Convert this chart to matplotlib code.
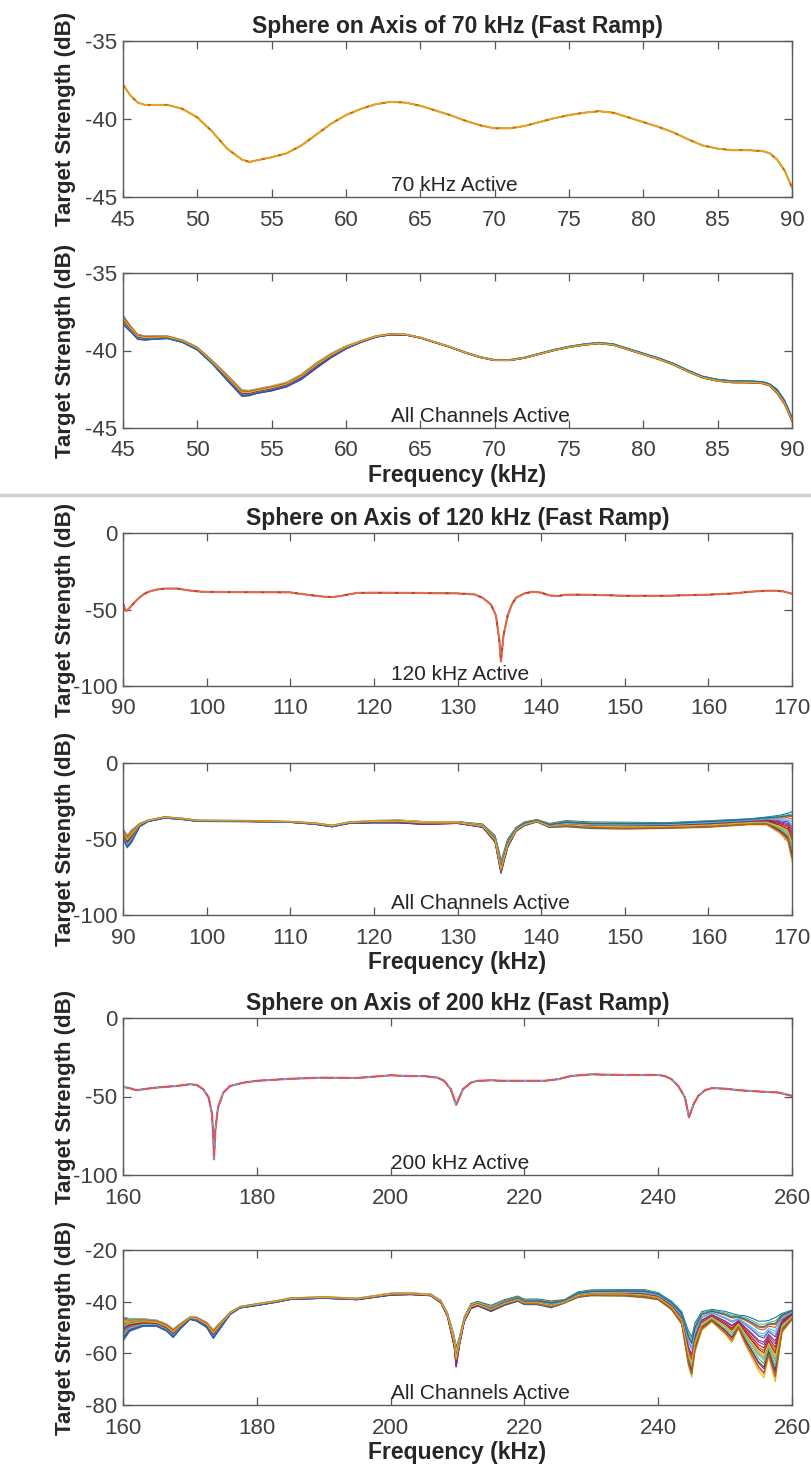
import numpy as np
import matplotlib
matplotlib.use('Agg')
import matplotlib.pyplot as plt
from matplotlib.lines import Line2D

plt.rcParams['font.family'] = ['Liberation Sans Narrow', 'Liberation Sans', 'DejaVu Sans']
plt.rcParams['axes.unicode_minus'] = False

# MATLAB default line colours
mcol = ['#0072BD', '#D95319', '#EDB120', '#7E2F8E', '#77AC30', '#4DBEEE', '#A2142F']

# ---- 70 kHz, single channel active
f1 = [45, 45.5, 46, 46.5, 47, 48, 49, 50, 51, 52, 53, 53.5, 54, 55, 56, 57, 58, 59, 60, 61,
      62, 63, 64, 65, 66, 67, 68, 69, 70, 71, 72, 73, 74, 75, 76, 77, 78, 79, 80, 81,
      82, 83, 84, 85, 86, 87, 88, 88.5, 89, 89.5, 90]
ts1 = [-37.8, -38.5, -38.95, -39.1, -39.1, -39.1, -39.35, -39.9, -40.8, -41.9, -42.6, -42.75,
       -42.65, -42.45, -42.2, -41.7, -41.0, -40.3, -39.75, -39.35, -39.05, -38.9, -38.95,
       -39.15, -39.45, -39.75, -40.1, -40.4, -40.6, -40.6, -40.45, -40.2, -39.95, -39.75,
       -39.6, -39.5, -39.6, -39.9, -40.2, -40.5, -40.85, -41.3, -41.7, -41.9, -42.0, -42.0,
       -42.05, -42.2, -42.6, -43.3, -44.4]

# ---- 70 kHz, all channels (upper / lower edge of the channel bundle)
f2 = f1
hi2 = [-37.7, -38.4, -38.95, -39.05, -39.05, -39.05, -39.3, -39.75, -40.6, -41.5, -42.45, -42.5,
       -42.4, -42.2, -41.95, -41.4, -40.65, -40.05, -39.6, -39.3, -39.0, -38.85, -38.9, -39.1,
       -39.4, -39.7, -40.05, -40.35, -40.55, -40.55, -40.4, -40.15, -39.9, -39.7, -39.55,
       -39.45, -39.55, -39.85, -40.15, -40.45, -40.8, -41.25, -41.65, -41.85, -41.95, -41.95,
       -42.0, -42.15, -42.5, -43.2, -44.3]
lo2 = [-38.35, -38.8, -39.3, -39.35, -39.3, -39.25, -39.5, -40.0, -40.9, -42.0, -43.05, -43.0,
       -42.85, -42.7, -42.45, -42.0, -41.3, -40.6, -40.0, -39.55, -39.2, -39.05, -39.05,
       -39.25, -39.55, -39.85, -40.2, -40.5, -40.7, -40.7, -40.55, -40.3, -40.05, -39.85,
       -39.7, -39.6, -39.7, -40.0, -40.3, -40.6, -40.95, -41.4, -41.8, -42.0, -42.1, -42.1,
       -42.15, -42.3, -42.8, -43.5, -44.6]

# ---- 120 kHz, single channel active
f3 = [90, 90.2, 90.4, 90.7, 91, 91.5, 92, 92.5, 93, 94, 95, 96.5, 97, 98, 99, 100, 105, 110, 111,
      112, 113, 114, 115, 116, 117, 118, 120, 125, 130, 132, 133, 134, 134.6, 135, 135.2, 135.5,
      136, 136.5, 137, 138, 139, 140, 141, 142, 143, 145, 150, 155, 160, 163, 165, 167, 168,
      169, 170]
ts3 = [-46, -49, -51, -49.5, -47.7, -44.6, -42, -40, -38.5, -37, -36.3, -36.3, -36.8, -37.6,
       -38.2, -38.5, -38.7, -38.8, -39.6, -40.3, -41, -41.6, -41.9, -41.2, -40.1, -39.2, -39,
       -39.2, -39.5, -40.1, -42.3, -46.7, -54, -70, -84, -67, -54, -46.7, -42.3, -39.5, -38.4,
       -39, -40.8, -41.2, -40.3, -40.3, -41, -41, -40.3, -39.5, -38.4, -37.7, -37.7, -38.2,
       -39.7]

# ---- 120 kHz, all channels
f4 = [90, 90.5, 91, 92, 93, 95, 97, 99, 105, 110, 113, 115, 117, 120, 123, 126, 130, 133, 134.5,
      135, 135.2, 136, 137, 138, 139.5, 141, 143, 146, 150, 155, 160, 165, 167, 168.5, 169.5, 170]
hi4 = [-43, -47.4, -44, -39.7, -37.5, -35.3, -36.2, -37.5, -37.6, -38.2, -39, -40.4, -38.2,
       -36.8, -36, -37, -37.6, -38.7, -45, -54, -60, -47, -41, -37.6, -36.5, -38.7, -36.5,
       -37.6, -38, -38.7, -37.6, -36.5, -35.4, -34.3, -33, -32]
lo4 = [-49.6, -56, -52.8, -42, -38.6, -36.4, -37.2, -38.6, -38.8, -39.3, -40.8, -42.5, -40.4,
       -40.4, -40.9, -42, -40.9, -44.2, -56, -73.7, -79, -60, -47, -43, -39.8, -44, -44, -45,
       -45, -44, -43, -40.9, -41, -46.3, -52, -65]

# ---- 200 kHz, single channel active
f5 = [160, 161, 162, 163, 165, 168, 170, 171, 172, 172.8, 173.3, 173.5, 173.6, 173.8, 174.2, 175,
      176, 178, 180, 185, 190, 195, 200, 203, 205, 207, 208, 209, 209.8, 210.8, 212, 213, 215,
      217, 220, 223, 225, 227, 230, 235, 240, 241, 242, 243, 244, 244.6, 245.3, 246, 247, 248,
      250, 252, 255, 258, 260]
ts5 = [-43.9, -44.7, -46, -45.4, -44.3, -43.3, -42.2, -42.6, -45.4, -50.6, -61, -75.8, -90,
       -71.6, -57, -47.5, -43.3, -41.2, -40, -38.7, -38, -38.2, -36.5, -37, -37, -38, -40,
       -45.4, -55.3, -45.4, -41.2, -40, -39.7, -40, -40, -40, -39, -36.9, -35.9, -36.3, -36.3,
       -37, -39, -43.3, -50.6, -63.2, -54.8, -49.6, -46, -44.7, -45, -46, -46.8, -47.5, -49.6]

# ---- 200 kHz, all channels
f6 = [160, 161, 163, 165, 166.5, 167.5, 168.5, 170, 171, 172.5, 173.5, 174.5, 176, 177.5, 180,
      183, 185, 190, 195, 200, 203, 206, 207.5, 208.5, 209.5, 209.8, 210.3, 211, 212, 213, 215,
      217, 219, 220, 222, 224, 226, 228, 230, 235, 238, 240, 242, 243.5, 244.5, 245, 245.5,
      246.5, 248, 250, 251, 252, 253, 254, 255, 255.8, 256.5, 257.5, 258.5, 260]
hi6 = [-45.8, -46.5, -46.5, -47, -48.4, -50.3, -48.4, -45.8, -45.8, -47.7, -50.3, -47.7, -43.9,
       -41.7, -40.6, -39.4, -38.3, -37.8, -38.3, -36.1, -36.1, -36.5, -38.7, -43.2, -49.7, -52,
       -51, -44.5, -39.4, -38.7, -40, -38, -36.8, -38, -38, -38.7, -38.7, -35.5, -34.8, -34.8,
       -34.8, -36.1, -39.4, -43.2, -49.7, -52, -47.1, -43.2, -42.6, -43.2, -43.9, -45, -45,
       -45.8, -47, -47, -47, -45.8, -44.5, -43.2]
lo6 = [-55.5, -51.6, -49.7, -49.7, -51.6, -54.2, -51, -47, -47.7, -50.3, -54.8, -51, -45.2,
       -42.6, -41.7, -40.4, -39.4, -39, -39.6, -38.1, -37.8, -38.3, -41.3, -47.1, -61.3, -72.3,
       -60, -49.7, -44.5, -43.2, -45.8, -43.2, -41.3, -42.6, -42.6, -43.9, -41.3, -39.4, -38.7,
       -38.7, -39.4, -40, -43.9, -49.7, -67, -71.6, -61.3, -52.2, -48.4, -53.5, -56.8, -50.9,
       -57.4, -62.6, -67.7, -70.3, -62, -71.6, -52.2, -47.1]

# where each channel sits inside the bundle at the low / high end of the sweep
chan_a = [0.55, 0.1, 0.85, 0.3, 0.7, 0.0, 0.95, 0.45, 0.2, 0.8, 0.6, 0.35, 1.0, 0.15,
          0.65, 0.4, 0.9, 0.05, 0.75, 0.25, 0.5, 0.12, 0.88, 0.62]
chan_b = [0.2, 0.9, 0.05, 0.6, 0.35, 0.8, 0.15, 1.0, 0.5, 0.0, 0.7, 0.95, 0.3, 0.55,
          0.1, 0.85, 0.4, 0.65, 0.25, 0.75, 0.45, 0.92, 0.08, 0.38]

titles = ['Sphere on Axis of 70 kHz (Fast Ramp)', None,
          'Sphere on Axis of 120 kHz (Fast Ramp)', None,
          'Sphere on Axis of 200 kHz (Fast Ramp)', None]
notes = ['70 kHz Active', 'All Channels Active', '120 kHz Active',
         'All Channels Active', '200 kHz Active', 'All Channels Active']

W, H = 811, 1470
fig = plt.figure(figsize=(W / 100, H / 100), dpi=100)

# axes boxes in pixels (top, bottom)
boxes = [(41, 197), (273, 428), (533, 686), (763, 915), (1018, 1175), (1250, 1405)]
left_px, right_px = 123, 792
axes = []
for top, bot in boxes:
    axes.append(fig.add_axes([left_px / W, 1 - bot / H, (right_px - left_px) / W, (bot - top) / H]))

txt = '#262626'
tcol = '#404040'


def single(ax, f, ts, main, second):
    for c in mcol:
        ax.plot(f, ts, color=c, lw=0.8)
    ax.plot(f, ts, color=main, lw=1.6, alpha=0.9)
    ax.plot(f, ts, color=second, lw=1.1, dashes=(2, 9))


def bundle(ax, f, lo, hi):
    f = np.asarray(f, float)
    lo = np.asarray(lo, float)
    hi = np.asarray(hi, float)
    w = (f - f[0]) / (f[-1] - f[0])
    for k, (a, b) in enumerate(zip(chan_a, chan_b)):
        fr = a * (1 - w) + b * w
        ax.plot(f, lo + (hi - lo) * fr, color=mcol[k % len(mcol)], lw=0.75)


single(axes[0], f1, ts1, '#EDB120', '#D95319')
bundle(axes[1], f2, lo2, hi2)
single(axes[2], f3, ts3, '#E8734F', '#C0303A')
bundle(axes[3], f4, lo4, hi4)
single(axes[4], f5, ts5, '#D9606A', '#4DBEEE')
bundle(axes[5], f6, lo6, hi6)

xlims = [(45, 90), (45, 90), (90, 170), (90, 170), (160, 260), (160, 260)]
xticks = [np.arange(45, 91, 5), np.arange(45, 91, 5), np.arange(90, 171, 10),
          np.arange(90, 171, 10), np.arange(160, 261, 20), np.arange(160, 261, 20)]
ylims = [(-45, -35), (-45, -35), (-100, 0), (-100, 0), (-100, 0), (-80, -20)]
yticks = [[-45, -40, -35], [-45, -40, -35], [-100, -50, 0], [-100, -50, 0],
          [-100, -50, 0], [-80, -60, -40, -20]]

for i, ax in enumerate(axes):
    ax.set_xlim(*xlims[i])
    ax.set_ylim(*ylims[i])
    ax.set_xticks(xticks[i])
    ax.set_yticks(yticks[i])
    ax.tick_params(direction='in', length=6, width=0.9, top=True, right=True,
                   labelsize=16, colors='#555555', labelcolor=tcol)
    ax.tick_params(axis='x', pad=9)
    ax.tick_params(axis='y', pad=4)
    for s in ax.spines.values():
        s.set_color('#5a5a5a')
        s.set_linewidth(1.0)
    ax.set_ylabel('Target Strength (dB)', family=['Liberation Sans', 'DejaVu Sans'],
                  fontweight='bold', fontsize=16, color=txt)
    ax.yaxis.set_label_coords(-0.071, 0.5)
    ax.text(0.40, 0.04, notes[i], transform=ax.transAxes, ha='left', va='baseline',
            fontsize=15, color=txt)
    if titles[i]:
        ax.set_title(titles[i], fontsize=16.5, fontweight='bold', color=txt, pad=6)
    if i % 2 == 1:
        ax.set_xlabel('Frequency (kHz)', fontsize=16.5, fontweight='bold', color=txt, labelpad=2)

# grey strip between the first and second figure
fig.add_artist(Line2D([0, 1], [1 - 495 / H] * 2, transform=fig.transFigure,
                      color='#cfcfcf', lw=2.5))

fig.savefig('out.png', dpi=100, facecolor='white')
